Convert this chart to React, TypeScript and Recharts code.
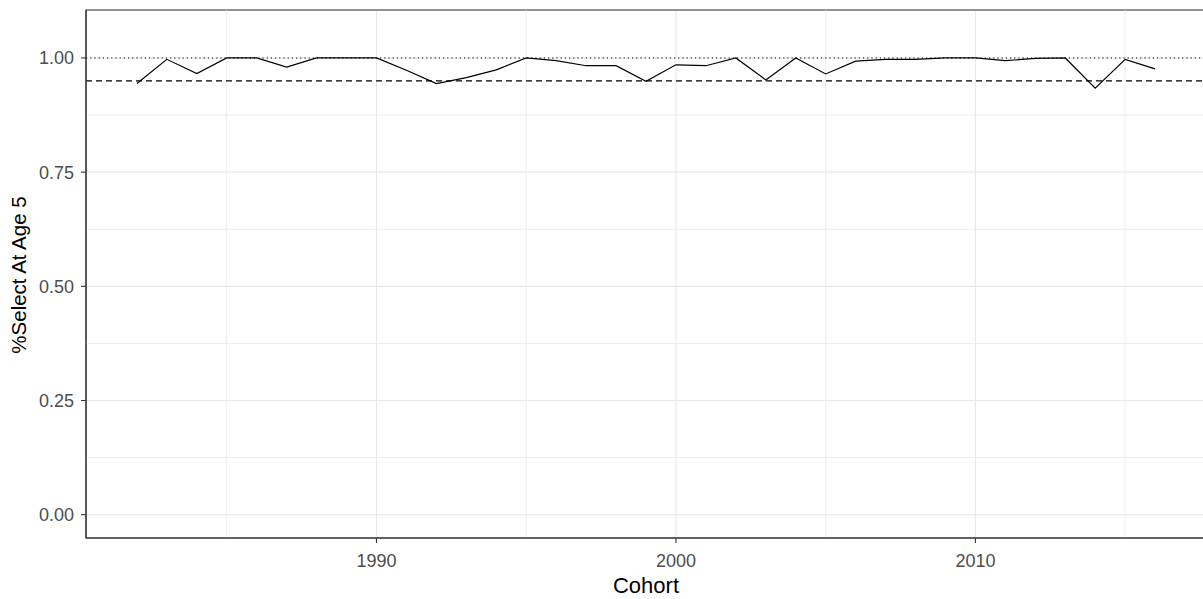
import React from "react";
import { CartesianGrid, Line, LineChart, ReferenceArea, ReferenceLine, XAxis, YAxis } from "recharts";

const cohorts = [
  1982, 1983, 1984, 1985, 1986, 1987, 1988, 1989, 1990, 1991, 1992, 1993, 1994, 1995, 1996, 1997, 1998, 1999,
  2000, 2001, 2002, 2003, 2004, 2005, 2006, 2007, 2008, 2009, 2010, 2011, 2012, 2013, 2014, 2015, 2016
];

const selectAtAge5 = [
  0.944, 0.997, 0.966, 1.0, 1.0, 0.98, 1.0, 1.0, 1.0, 0.973, 0.944, 0.957, 0.974, 1.0, 0.994, 0.983, 0.983, 0.949,
  0.985, 0.983, 1.0, 0.952, 1.0, 0.965, 0.993, 0.997, 0.997, 1.0, 1.0, 0.994, 0.999, 1.0, 0.934, 0.997, 0.976
];

const xTicks = [1990, 2000, 2010];
const xMinor = [1985, 1995, 2005, 2015];
const yTicks = [0, 0.25, 0.5, 0.75, 1];
const yMinor = [0.125, 0.375, 0.625, 0.875];

const xDomain: [number, number] = [1980.3, 2017.7];
const yDomain: [number, number] = [-0.051, 1.105];

const data = cohorts.map((cohort, i) => ({ cohort, value: selectAtAge5[i] }));

const FONT = '"Liberation Sans", Arial, sans-serif';

export default function App() {
  return (
    <div style={{ position: "absolute", left: 0, top: 0, width: 1203, height: 599, overflow: "hidden", background: "#fff" }}>
      <LineChart width={1206} height={599} data={data} margin={{ top: 10, right: 0, left: 0, bottom: 0 }}>
        <CartesianGrid stroke="#e8e8e8" strokeWidth={1.1} />
        {xMinor.map((x) => (
          <ReferenceLine key={"xm" + x} x={x} stroke="#ebebeb" strokeWidth={0.9} />
        ))}
        {yMinor.map((y) => (
          <ReferenceLine key={"ym" + y} y={y} stroke="#ebebeb" strokeWidth={0.9} />
        ))}
        <XAxis
          dataKey="cohort"
          type="number"
          domain={xDomain}
          ticks={xTicks}
          allowDataOverflow
          height={61}
          tickSize={5}
          tickMargin={11}
          axisLine={{ stroke: "#333333", strokeWidth: 1.1 }}
          tickLine={{ stroke: "#333333", strokeWidth: 1.1 }}
          tick={{ fill: "#4d4d4d", fontSize: 18, fontFamily: FONT }}
          label={{
            content: (props: any) => {
              const vb = props.viewBox || { x: 86, width: 1120 };
              return (
                <text x={vb.x + vb.width / 2} y={593} textAnchor="middle" fill="#000" fontSize={22} fontFamily={FONT}>
                  Cohort
                </text>
              );
            }
          }}
        />
        <YAxis
          type="number"
          domain={yDomain}
          ticks={yTicks}
          allowDataOverflow
          width={86}
          tickSize={5}
          tickMargin={7}
          tickFormatter={(v: number) => v.toFixed(2)}
          axisLine={{ stroke: "#333333", strokeWidth: 1.1 }}
          tickLine={{ stroke: "#333333", strokeWidth: 1.1 }}
          tick={{ fill: "#4d4d4d", fontSize: 18, fontFamily: FONT }}
          label={{
            content: () => (
              <text
                x={26}
                y={275}
                transform="rotate(-90, 26, 275)"
                textAnchor="middle"
                fill="#000"
                fontSize={20.5}
                fontFamily={FONT}
              >
                %Select At Age 5
              </text>
            )
          }}
        />
        <ReferenceArea
          x1={xDomain[0]}
          x2={xDomain[1]}
          y1={yDomain[0]}
          y2={yDomain[1]}
          fill="none"
          fillOpacity={0}
          stroke="#333333"
          strokeWidth={1.1}
          ifOverflow="visible"
        />
        <ReferenceLine y={1} stroke="#000" strokeWidth={1.1} strokeDasharray="1.2 3" />
        <ReferenceLine y={0.95} stroke="#000" strokeWidth={1.2} strokeDasharray="6 4" />
        <Line
          dataKey="value"
          type="linear"
          stroke="#000"
          strokeWidth={1.2}
          dot={false}
          isAnimationActive={false}
        />
      </LineChart>
    </div>
  );
}
